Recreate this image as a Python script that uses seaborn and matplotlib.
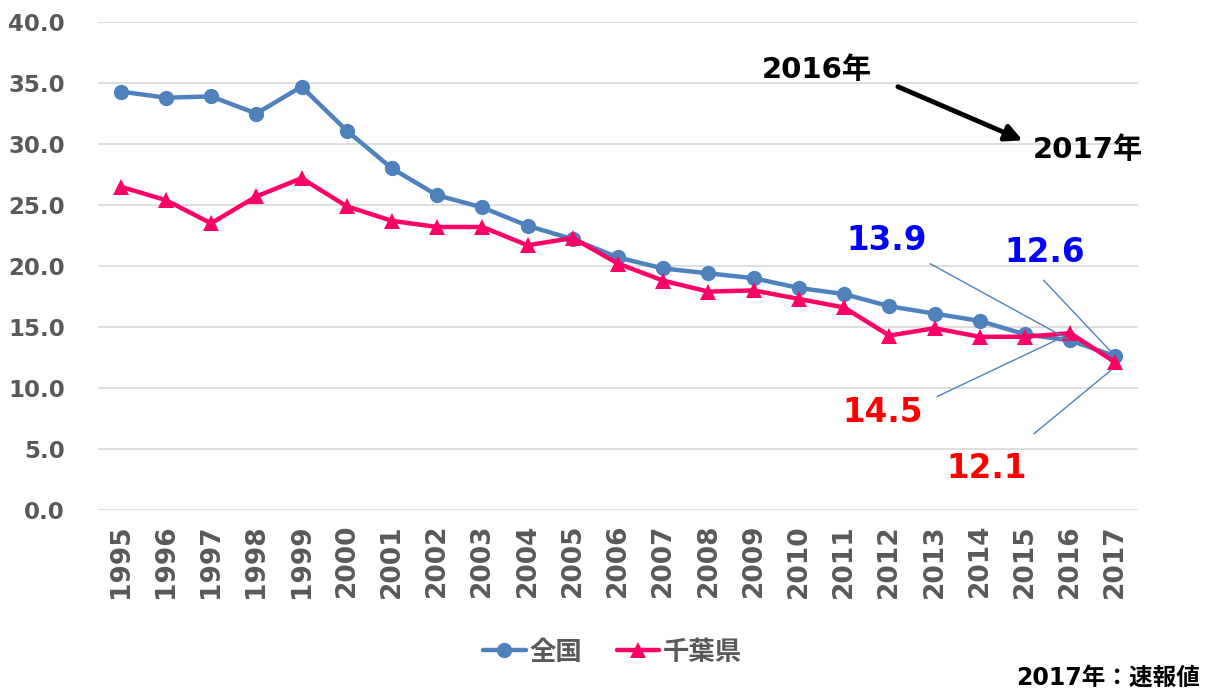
import pandas as pd
import matplotlib
matplotlib.use('Agg')
import matplotlib.pyplot as plt
import seaborn as sns
from matplotlib.lines import Line2D

# data
years = [str(y) for y in range(1995, 2018)]
zenkoku = [34.3, 33.8, 33.9, 32.5, 34.7, 31.1, 28.0, 25.8, 24.8, 23.3, 22.2,
           20.7, 19.8, 19.4, 19.0, 18.2, 17.7, 16.7, 16.1, 15.5, 14.4, 13.9, 12.6]
chiba = [26.5, 25.4, 23.5, 25.7, 27.2, 24.9, 23.7, 23.2, 23.2, 21.7, 22.3,
         20.2, 18.8, 17.9, 18.0, 17.3, 16.6, 14.3, 14.9, 14.2, 14.2, 14.5, 12.1]
series_names = ['全国', '千葉県']
yticks = [0, 5, 10, 15, 20, 25, 30, 35, 40]

blue = '#4f81bd'
pink = '#ff0066'
gray = '#595959'

sns.set_style('white')
plt.rcParams['font.family'] = ['DejaVu Sans', 'Noto Sans CJK JP']
plt.rcParams['font.weight'] = 'bold'

df = pd.DataFrame({
    'year': years * 2,
    'value': zenkoku + chiba,
    'series': [series_names[0]] * len(years) + [series_names[1]] * len(years),
})

fig = plt.figure(figsize=(12.06, 6.95), dpi=100)
ax = fig.add_axes([0.0813, 0.2662, 0.8623, 0.7021])

sns.lineplot(data=df, x='year', y='value', hue='series', style='series',
             palette={'全国': blue, '千葉県': pink},
             markers={'全国': 'o', '千葉県': '^'}, dashes=False,
             linewidth=3.2, markersize=11, markeredgewidth=0,
             legend=False, ax=ax)

ax.set_xlim(-0.5, len(years) - 0.5)
ax.set_ylim(0, 40)
ax.set_yticks(yticks)
ax.set_yticklabels([f'{v:.1f}' for v in yticks])
ax.grid(axis='y', color='#d9d9d9', linewidth=1.2)
ax.set_axisbelow(True)
for s in ax.spines.values():
    s.set_visible(False)
ax.set_xlabel('')
ax.set_ylabel('')
ax.tick_params(axis='x', labelrotation=90, labelsize=19, labelcolor=gray, length=0, pad=10)
ax.tick_params(axis='y', labelsize=16.5, labelcolor=gray, length=0, pad=24)
for lab in ax.get_xticklabels() + ax.get_yticklabels():
    lab.set_fontweight('bold')

# leader lines and value labels for the last two years
i16, i17 = years.index('2016'), years.index('2017')
leaders = [
    ((17.85, 20.3), (i16, zenkoku[i16])),
    ((20.37, 19.0), (i17, zenkoku[i17])),
    ((18.0, 9.2), (i16 - 0.15, chiba[i16] - 0.3)),
    ((20.15, 6.1), (i17 - 0.05, chiba[i17] - 0.5)),
]
for start, end in leaders:
    ax.annotate('', xy=end, xytext=start,
                arrowprops=dict(arrowstyle='-', color=blue, lw=1))

label_kw = dict(fontsize=23.5, fontweight='bold', ha='center', va='center')
ax.text(16.94, 22.1, f'{zenkoku[i16]:.1f}', color='#0000ff', **label_kw)
ax.text(20.44, 21.1, f'{zenkoku[i17]:.1f}', color='#0000ff', **label_kw)
ax.text(16.86, 8.0, f'{chiba[i16]:.1f}', color='#ff0000', **label_kw)
ax.text(19.15, 3.4, f'{chiba[i17]:.1f}', color='#ff0000', **label_kw)

# 2016 -> 2017 arrow
ax.text(15.40, 36.1, '2016年', color='black', fontsize=21, fontweight='bold',
        ha='center', va='center')
ax.text(21.39, 29.5, '2017年', color='black', fontsize=21, fontweight='bold',
        ha='center', va='center')
ax.annotate('', xy=(19.95, 30.3), xytext=(17.19, 34.7),
            arrowprops=dict(arrowstyle='-|>', color='black', lw=3.5,
                            mutation_scale=25, shrinkA=0, shrinkB=0))

handles = [
    Line2D([], [], color=blue, marker='o', lw=3.2, markersize=11, markeredgewidth=0),
    Line2D([], [], color=pink, marker='^', lw=3.2, markersize=11, markeredgewidth=0),
]
leg = fig.legend(handles, series_names, loc='center', bbox_to_anchor=(0.508, 0.061),
                 ncol=2, frameon=False, handlelength=1.6, handletextpad=0.15,
                 columnspacing=1.3, prop={'size': 19, 'weight': 'bold'})
for t in leg.get_texts():
    t.set_color(gray)

fig.text(0.995, 0.025, '2017年：速報値', ha='right', va='center',
         fontsize=17, fontweight='bold', color='black')

fig.savefig('out.png', dpi=100)
